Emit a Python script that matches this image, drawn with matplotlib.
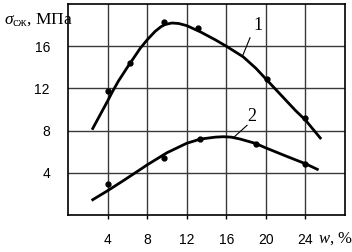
import matplotlib
matplotlib.use("Agg")
import matplotlib.pyplot as plt

plt.rcParams["mathtext.fontset"] = "custom"
plt.rcParams["mathtext.rm"] = "Liberation Serif"
plt.rcParams["mathtext.it"] = "Liberation Serif:italic"

w1 = [2.5, 4, 4.5, 5.1, 6, 7.3, 8, 8.8, 9.4, 9.8, 10.5, 11.2, 12, 13.4,
      14.9, 16, 17.7, 19, 20, 21, 22.1, 23, 24, 25.5]
s1 = [8.2, 10.8, 11.7, 12.7, 14.0, 15.8, 16.6, 17.4, 17.85, 18.05, 18.2, 18.15,
      17.95, 17.35, 16.6, 16.0, 15.0, 13.9, 12.9, 11.9, 10.8, 9.9, 9.0, 7.3]
w1_pts = [4, 6.3, 9.7, 13.1, 20.1, 24.0]
s1_pts = [11.8, 14.4, 18.3, 17.7, 12.9, 9.2]

w2 = [2.5, 4, 5.5, 6.8, 8, 10, 12, 13.4, 14.9, 15.7, 16.5, 17.4, 18.9, 20,
      22, 24, 25.2]
s2 = [1.45, 2.3, 3.2, 4.0, 4.75, 5.9, 6.8, 7.2, 7.38, 7.42, 7.38, 7.2, 6.8,
      6.36, 5.6, 4.86, 4.33]
w2_pts = [4, 9.7, 13.3, 19.0, 24.0]
s2_pts = [2.95, 5.4, 7.25, 6.7, 4.85]

xticks = [4, 8, 12, 16, 20, 24]
yticks = [4, 8, 12, 16]

W, H = 352, 252
fig = plt.figure(figsize=(W / 100, H / 100), dpi=100)
ax = fig.add_axes([68 / W, 1 - 215 / H, (345 - 68) / W, (215 - 4) / H])

num_font = ["Liberation Sans", "DejaVu Sans"]
serif = ["Liberation Serif", "DejaVu Serif"]

ax.set_xlim(0, 28)
ax.set_ylim(0, 20)
ax.set_xticks(xticks)
ax.set_yticks(yticks)
ax.set_xticklabels([str(t) for t in xticks], family=num_font, fontsize=10)
ax.set_yticklabels([str(t) for t in yticks], family=num_font, fontsize=10)
ax.tick_params(axis="x", length=3, width=1, pad=10, color="black")
ax.tick_params(axis="y", length=0, pad=13)
ax.grid(True, color="#3a3a3a", linewidth=1)
ax.set_axisbelow(True)
for sp in ax.spines.values():
    sp.set_linewidth(1.2)
    sp.set_color("black")

ax.plot(w1, s1, color="black", linewidth=2, solid_joinstyle="round")
ax.plot(w2, s2, color="black", linewidth=2, solid_joinstyle="round")
ax.plot(w1_pts, s1_pts, "o", color="black", markersize=3.5)
ax.plot(w2_pts, s2_pts, "o", color="black", markersize=3.5)

# curve labels with leader lines
ax.plot([18.4, 17.7], [16.8, 15.2], color="black", linewidth=0.8)
ax.text(19.2, 18.0, "1", family=serif, fontsize=13, ha="center", va="center")
ax.plot([18.1, 16.8], [8.5, 7.4], color="black", linewidth=0.8)
ax.text(18.6, 9.3, "2", family=serif, fontsize=13, ha="center", va="center")

# axis captions
fig.text(4 / W, 1 - 24 / H, r"$\sigma_{\mathrm{сж}}$, МПа", family=serif,
         fontsize=12.5)
fig.text(318 / W, 1 - 243 / H, r"$w$, %", family=serif, fontsize=12)

fig.savefig("out.png", dpi=100)
